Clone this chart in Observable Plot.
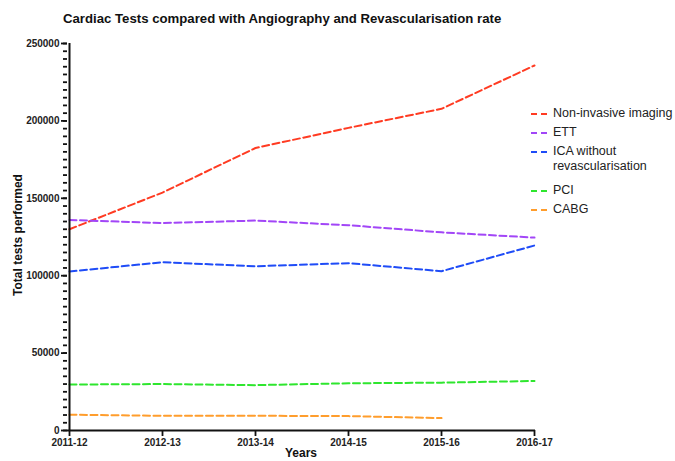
<!DOCTYPE html>
<html>
<head>
<meta charset="utf-8">
<script src="https://cdn.jsdelivr.net/npm/d3@7"></script>
<script src="https://cdn.jsdelivr.net/npm/@observablehq/plot@0.6"></script>
<style>
  html, body { margin: 0; padding: 0; background: #fff; overflow: hidden; }
  #wrap { position: relative; width: 675px; height: 461px; font-family: "Liberation Sans", Arial, sans-serif; }
  .abs { position: absolute; white-space: nowrap; color: #111; }
  #title { left: 63px; top: 11px; font-size: 13.2px; font-weight: bold; }
  #ylab { left: 18px; top: 235px; font-size: 12px; font-weight: bold; transform: translate(-50%, -50%) rotate(-90deg); }
  #xlab { left: 301px; top: 446px; font-size: 12px; font-weight: bold; transform: translateX(-50%); }
  #legend { left: 531px; top: 106px; font-size: 12.5px; color: #222; }
  .item { position: absolute; left: 0; white-space: nowrap; }
  .sw { position: absolute; left: 0; top: 7px; width: 16px; height: 0; border-top: 2px dashed; }
  .lt { position: absolute; left: 22px; top: 0; line-height: 15px; }
</style>
</head>
<body>
<div id="wrap">
  <div id="chart"></div>
  <div id="title" class="abs">Cardiac Tests compared with Angiography and Revascularisation rate</div>
  <div id="ylab" class="abs">Total tests performed</div>
  <div id="xlab" class="abs">Years</div>
  <div id="legend" class="abs"></div>
</div>
<script>
const years = ["2011-12", "2012-13", "2013-14", "2014-15", "2015-16", "2016-17"];
const seriesNames = ["Non-invasive imaging", "ETT", "ICA without revascularisation", "PCI", "CABG"];
const seriesColors = ["#ff3b22", "#a246f7", "#1f4cf7", "#2ee62e", "#ff9d2c"];
const nonInvasive = [130000, 153700, 182500, 195500, 207800, 235800];
const ett = [136000, 134000, 135600, 132600, 128000, 124600];
const icaWithout = [102700, 108700, 106100, 108100, 102900, 119500];
const pci = [29700, 30000, 29300, 30500, 30900, 32000];
const cabg = [10200, 9500, 9500, 9300, 8000, null];
const yMajorTicks = [0, 50000, 100000, 150000, 200000, 250000];

const seriesValues = [nonInvasive, ett, icaWithout, pci, cabg];
const data = [];
seriesNames.forEach((name, i) => {
  seriesValues[i].forEach((v, j) => {
    if (v != null) data.push({series: name, year: years[j], value: v});
  });
});

const font = "Liberation Sans, Arial, sans-serif";
const chart = Plot.plot({
  width: 675,
  height: 461,
  marginLeft: 67,
  marginRight: 140,
  marginTop: 43,
  marginBottom: 31,
  style: {fontFamily: font, fontSize: "10px", fontWeight: "bold", color: "#222", background: "#fff"},
  x: {type: "point", domain: years, padding: 0, label: null},
  y: {domain: [0, 250000], label: null},
  color: {domain: seriesNames, range: seriesColors},
  marks: [
    Plot.axisY({ticks: d3.range(0, 250001, 5000), tickSize: 4, tickFormat: null, text: null, strokeWidth: 1.8, stroke: "#111"}),
    Plot.axisY({ticks: yMajorTicks, tickSize: 6, tickPadding: 2, tickFormat: d3.format("d"), strokeWidth: 1.8, stroke: "#111", fill: "#222", label: null}),
    Plot.axisX({tickSize: 6, tickPadding: 2, strokeWidth: 1.8, stroke: "#111", fill: "#222", label: null}),
    Plot.line(data, {x: "year", y: "value", z: "series", stroke: "series", strokeWidth: 2, strokeDasharray: "7,3.5", curve: "linear"}),
    Plot.ruleX([years[0]], {stroke: "#111", strokeWidth: 2}),
    Plot.ruleY([0], {stroke: "#111", strokeWidth: 2})
  ]
});
document.getElementById("chart").appendChild(chart);

const legendTops = [0, 19, 38, 77, 96];
const legend = document.getElementById("legend");
seriesNames.forEach((name, i) => {
  const item = document.createElement("div");
  item.className = "item";
  item.style.top = legendTops[i] + "px";
  const sw = document.createElement("div");
  sw.className = "sw";
  sw.style.borderColor = seriesColors[i];
  const lt = document.createElement("div");
  lt.className = "lt";
  if (name === "ICA without revascularisation") {
    lt.innerHTML = "ICA without<br>revascularisation";
  } else {
    lt.textContent = name;
  }
  item.appendChild(sw);
  item.appendChild(lt);
  legend.appendChild(item);
});
</script>
</body>
</html>
